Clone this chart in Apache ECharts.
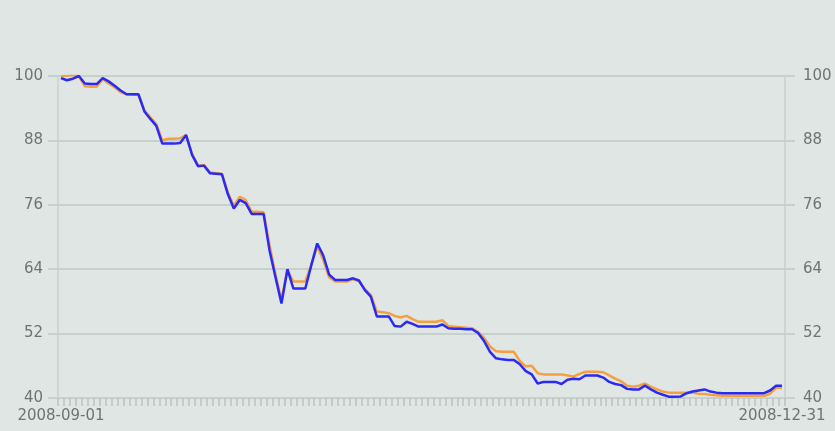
<!DOCTYPE html>
<html>
<head>
<meta charset="utf-8">
<script src="https://cdn.jsdelivr.net/npm/echarts@6/dist/echarts.min.js"></script>
<style>
  html, body { margin: 0; padding: 0; background: #dfe6e4; }
  #main { width: 835px; height: 431px; }
</style>
</head>
<body>
<div id="main"></div>
<script>
// daily dates 2008-09-01 .. 2008-12-31
var dates = [];
(function () {
    var d = new Date(Date.UTC(2008, 8, 1));
    var end = Date.UTC(2008, 11, 31);
    while (d.getTime() <= end) {
        dates.push(d.toISOString().slice(0, 10));
        d.setUTCDate(d.getUTCDate() + 1);
    }
})();

var yTicks = [40, 52, 64, 76, 88, 100];

// orange line
var orangeValues = [
    99.9, 100.1, 100.2, 100.0, 98.1, 98.0, 98.0, 99.4, 98.6, 97.9,
    97.0, 96.6, 96.5, 96.5, 93.6, 92.3, 91.0, 88.0, 88.3, 88.3,
    88.4, 89.0, 85.5, 83.3, 83.4, 82.0, 81.9, 81.8, 78.3, 75.8,
    77.5, 76.9, 74.7, 74.7, 74.6, 68.5, 63.0, 58.3, 63.8, 61.7,
    61.7, 61.7, 64.8, 68.2, 65.8, 62.5, 61.7, 61.7, 61.7, 62.1,
    61.8, 60.3, 59.2, 56.1, 56.0, 55.8, 55.3, 55.0, 55.3, 54.7,
    54.2, 54.2, 54.2, 54.2, 54.5, 53.4, 53.3, 53.2, 53.1, 53.0,
    52.3, 51.2, 49.6, 48.7, 48.6, 48.6, 48.6, 46.9, 45.9, 46.0,
    44.6, 44.4, 44.4, 44.4, 44.4, 44.2, 44.0, 44.5, 44.9, 44.9,
    44.9, 44.8, 44.2, 43.6, 43.1, 42.3, 42.1, 42.3, 42.7, 42.1,
    41.6, 41.2, 41.0, 41.0, 41.0, 41.0, 41.0, 40.8, 40.75, 40.6,
    40.5, 40.4, 40.4, 40.4, 40.4, 40.4, 40.4, 40.4, 40.4, 40.8,
    41.9, 41.9
];

// blue line
var blueValues = [
    99.6, 99.2, 99.5, 100.0, 98.6, 98.5, 98.5, 99.6, 99.0, 98.2,
    97.3, 96.6, 96.6, 96.6, 93.4, 92.0, 90.7, 87.4, 87.4, 87.4,
    87.5, 89.0, 85.3, 83.2, 83.3, 81.9, 81.8, 81.7, 78.0, 75.3,
    76.9, 76.3, 74.3, 74.3, 74.3, 67.5, 62.5, 57.6, 64.0, 60.4,
    60.4, 60.4, 64.7, 68.8, 66.6, 63.0, 62.0, 62.0, 62.0, 62.3,
    61.9, 60.1, 58.9, 55.2, 55.2, 55.2, 53.4, 53.3, 54.2, 53.8,
    53.3, 53.3, 53.3, 53.3, 53.7, 53.0, 52.9, 52.9, 52.8, 52.8,
    52.1, 50.6, 48.6, 47.4, 47.2, 47.1, 47.1, 46.3, 45.0, 44.4,
    42.7, 43.0, 43.0, 43.0, 42.6, 43.4, 43.6, 43.5, 44.2, 44.2,
    44.2, 43.8, 43.0, 42.6, 42.4, 41.7, 41.6, 41.6, 42.3, 41.6,
    41.0, 40.6, 40.25, 40.25, 40.3, 40.9, 41.2, 41.4, 41.6, 41.2,
    41.0, 40.9, 40.9, 40.9, 40.9, 40.9, 40.9, 40.9, 40.9, 41.4,
    42.3, 42.3
];

var gridColor = '#c8d0ce';
var textColor = '#6e7474';
var lastIdx = dates.length - 1;

function yAxisOpt(pos, margin) {
    return {
        type: 'value',
        position: pos,
        min: yTicks[0],
        max: yTicks[yTicks.length - 1],
        interval: yTicks[1] - yTicks[0],
        axisLine: { show: true, lineStyle: { color: gridColor, width: 1.5 } },
        axisTick: { show: true, length: 10, lineStyle: { color: gridColor, width: 2 } },
        splitLine: { show: true, lineStyle: { color: gridColor, width: 2 } },
        axisLabel: {
            color: textColor,
            fontFamily: 'DejaVu Sans',
            fontSize: 15,
            margin: margin
        }
    };
}

var myChart = echarts.init(document.getElementById('main'));

var option = {
    backgroundColor: '#dfe6e4',
    animation: false,
    grid: { left: 58, right: 50, top: 76, bottom: 33 },
    xAxis: {
        type: 'category',
        data: dates,
        boundaryGap: true,
        axisLine: { show: true, lineStyle: { color: gridColor, width: 2 } },
        axisTick: {
            show: true,
            interval: 0,
            length: 8,
            lineStyle: { color: '#bcc4c2', width: 1.5 }
        },
        axisLabel: {
            color: textColor,
            fontFamily: 'DejaVu Sans',
            fontSize: 15,
            margin: 11,
            interval: function (idx) { return idx === 0 || idx === lastIdx; }
        },
        splitLine: { show: false }
    },
    yAxis: [yAxisOpt('left', 15), yAxisOpt('right', 18)],
    series: [
        {
            name: 'orange',
            type: 'line',
            data: orangeValues,
            showSymbol: false,
            lineStyle: { color: '#f5a040', width: 2.5 },
            itemStyle: { color: '#f5a040' }
        },
        {
            name: 'blue',
            type: 'line',
            data: blueValues,
            showSymbol: false,
            lineStyle: { color: '#2a2af2', width: 2.5 },
            itemStyle: { color: '#2a2af2' }
        }
    ]
};

myChart.setOption(option);
</script>
</body>
</html>
